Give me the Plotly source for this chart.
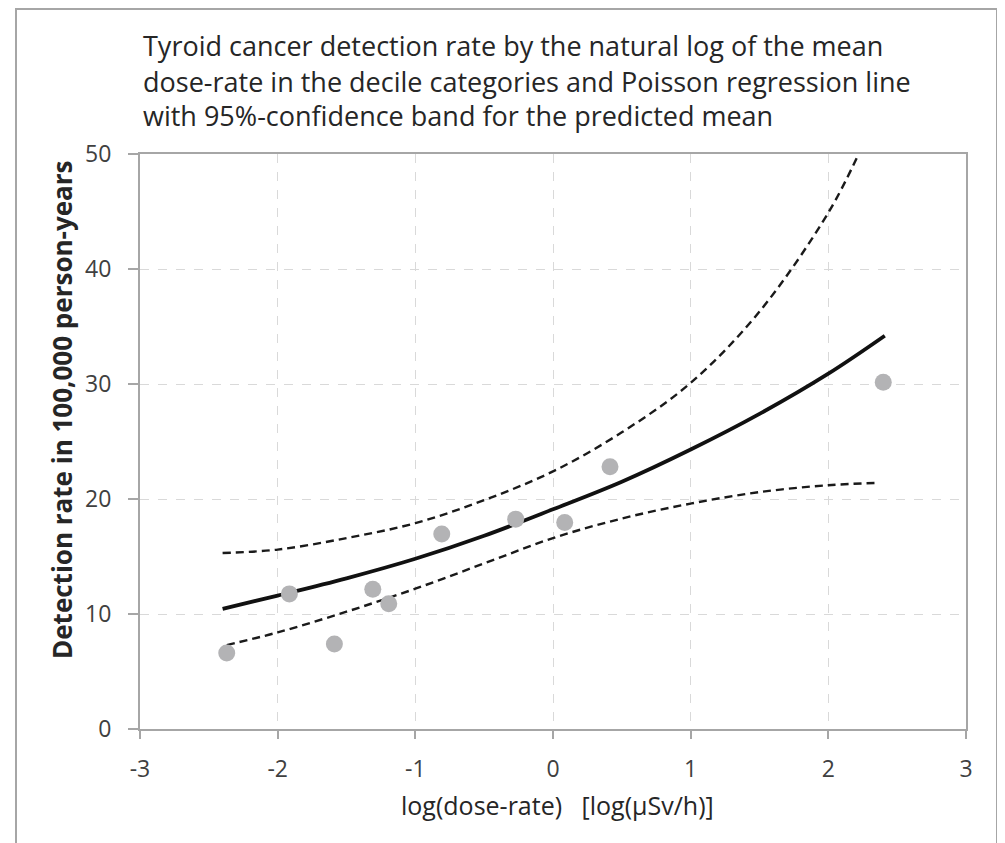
import plotly.graph_objects as go

# ---- data ----
obs_x = [-2.37, -1.915, -1.588, -1.309, -1.193, -0.808, -0.271, 0.085, 0.414, 2.399]
obs_y = [6.6, 11.75, 7.4, 12.15, 10.9, 16.95, 18.25, 17.95, 22.8, 30.15]

fit_x = [-2.4, -2.0, -1.5, -1.0, -0.5, 0.0, 0.5, 1.0, 1.5, 2.0, 2.41]
fit_y = [10.45, 11.6, 13.1, 14.8, 16.8, 19.1, 21.5, 24.3, 27.4, 30.9, 34.2]

upper_x = [-2.4, -2.0, -1.5, -1.0, -0.5, 0.0, 0.5, 1.0, 1.5, 2.0, 2.22]
upper_y = [15.3, 15.6, 16.6, 17.9, 19.9, 22.4, 25.8, 30.1, 36.3, 44.9, 50.0]

lower_x = [-2.37, -2.0, -1.5, -1.0, -0.5, 0.0, 0.5, 1.0, 1.5, 2.0, 2.37]
lower_y = [7.3, 8.4, 10.2, 12.2, 14.4, 16.6, 18.3, 19.6, 20.6, 21.2, 21.4]

title_lines = [
    "Tyroid cancer detection rate by the natural log of the mean",
    "dose-rate in the decile categories and Poisson regression line",
    "with 95%-confidence band for the predicted mean",
]
x_title = "log(dose-rate)   [log(µSv/h)]"
y_title = "Detection rate in 100,000 person-years"
x_ticks = [-3, -2, -1, 0, 1, 2, 3]
y_ticks = [0, 10, 20, 30, 40, 50]

FONT = "Open Sans"
OFF = 8  # page body margin offset
W, H = 997, 835
L, R, T, B = 132, 39, 146, 114
PW, PH = W - L - R, H - T - B

fig = go.Figure()
dash_style = dict(color="#1a1a1a", width=2.4, dash="8px,5px")
fig.add_trace(go.Scatter(x=upper_x, y=upper_y, mode="lines", line_shape="spline",
                         line=dash_style, hoverinfo="skip", showlegend=False))
fig.add_trace(go.Scatter(x=lower_x, y=lower_y, mode="lines", line_shape="spline",
                         line=dash_style, hoverinfo="skip", showlegend=False))
fig.add_trace(go.Scatter(x=fit_x, y=fit_y, mode="lines", line_shape="spline",
                         line=dict(color="#111111", width=3.8), showlegend=False))
fig.add_trace(go.Scatter(x=obs_x, y=obs_y, mode="markers",
                         marker=dict(size=17, color="#b3b3b5", line=dict(width=0)),
                         showlegend=False))

def px_x(p):  # reference pixel -> paper coord
    return (p - OFF - L) / PW

def px_y(p):
    return (H - B - (p - OFF)) / PH

annotations = []
for i, line in enumerate(title_lines):
    annotations.append(dict(text=line, xref="paper", yref="paper",
                            x=px_x(141), y=px_y(46 + 35 * i), xanchor="left", yanchor="middle",
                            showarrow=False, font=dict(family=FONT, size=27, color="#262626")))
annotations.append(dict(text=x_title, xref="paper", yref="paper",
                        x=px_x(557), y=px_y(805), xanchor="center", yanchor="middle",
                        showarrow=False, font=dict(family=FONT, size=25, color="#262626")))
annotations.append(dict(text="<b>" + y_title + "</b>", xref="paper", yref="paper",
                        x=px_x(62), y=px_y(410), xanchor="center", yanchor="middle",
                        textangle=-90, showarrow=False,
                        font=dict(family=FONT, size=26, color="#262626")))

fig.update_layout(
    width=W, height=H,
    margin=dict(l=L, r=R, t=T, b=B, pad=0),
    paper_bgcolor="white", plot_bgcolor="white",
    font=dict(family=FONT, color="#404040"),
    annotations=annotations,
    shapes=[dict(type="rect", xref="paper", yref="paper",
                 x0=px_x(16), x1=px_x(997), y0=px_y(860), y1=px_y(9),
                 line=dict(color="#a6a6a6", width=2), fillcolor="rgba(0,0,0,0)", layer="below")],
)
fig.update_xaxes(range=[-3, 3], tickvals=x_ticks, ticktext=[str(v) for v in x_ticks],
                 showgrid=True, gridcolor="#d9d9d9", griddash="dash", gridwidth=1,
                 zeroline=False, showline=True, linecolor="#a6a6a6", linewidth=2, mirror=True,
                 ticks="outside", ticklen=8, tickcolor="#a6a6a6", tickwidth=1.5,
                 ticklabelstandoff=10,
                 tickfont=dict(family=FONT, size=23, color="#404040"))
fig.update_yaxes(range=[0, 50], tickvals=y_ticks, ticktext=[str(v) for v in y_ticks],
                 showgrid=True, gridcolor="#d9d9d9", griddash="dash", gridwidth=1,
                 zeroline=False, showline=True, linecolor="#a6a6a6", linewidth=2, mirror=True,
                 ticks="outside", ticklen=10, tickcolor="#a6a6a6", tickwidth=1.5,
                 ticklabelstandoff=12,
                 tickfont=dict(family=FONT, size=23, color="#404040"))

fig.write_html("out.html")
